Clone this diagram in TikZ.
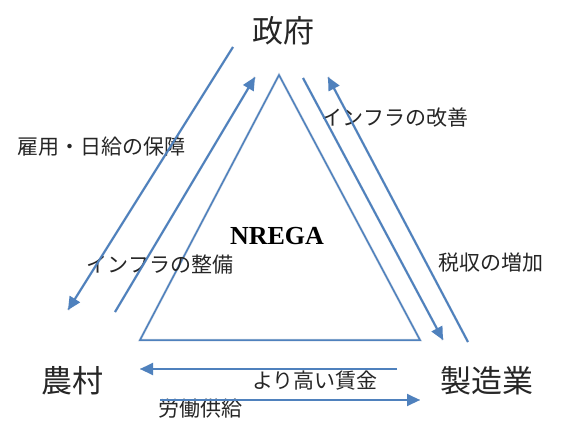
\documentclass[tikz,border=0pt]{standalone}
\usepackage{fontspec}
\setmainfont{Liberation Serif}
\newfontfamily\jp{Noto Sans CJK JP}
\usetikzlibrary{arrows.meta}
\definecolor{lineblue}{RGB}{79,129,189}
\definecolor{shadowc}{RGB}{205,215,228}
\tikzset{
  bigtext/.style={font=\jp\fontsize{31}{31}\selectfont, text=black!85, inner sep=0pt},
  lbltext/.style={font=\jp\fontsize{21}{21}\selectfont, text=black!85, inner sep=0pt},
  flow/.style={draw=lineblue, line width=2pt, -{Triangle[length=13pt,width=12pt]}},
  tri/.style={draw=lineblue, line width=1.5pt, line join=miter},
  shad/.style={draw=shadowc, line width=2.5pt}
}
\begin{document}
\begin{tikzpicture}[x=1pt,y=-1pt]
\useasboundingbox (0,0) rectangle (561,420);
\fill[white] (0,0) rectangle (561,420);

% endpoints
\coordinate (lo1) at (233,47);  \coordinate (lo2) at (68,310);
\coordinate (li1) at (115,312); \coordinate (li2) at (255,77);
\coordinate (ta) at (279,75);   \coordinate (tl) at (140,340); \coordinate (tr) at (420,340);
\coordinate (ri1) at (303,78);  \coordinate (ri2) at (443,340);
\coordinate (ro1) at (468,342); \coordinate (ro2) at (328,77);
\coordinate (h11) at (397,369); \coordinate (h12) at (140,369);
\coordinate (h21) at (160,400); \coordinate (h22) at (420,400);

% soft shadows
\begin{scope}[shift={(1.5,2.5)}]
\draw[shad] (lo1) -- (lo2);
\draw[shad] (li1) -- (li2);
\draw[shad] (ta) -- (tl) -- (tr) -- cycle;
\draw[shad] (ri1) -- (ri2);
\draw[shad] (ro1) -- (ro2);
\draw[shad] (h11) -- (h12);
\draw[shad] (h21) -- (h22);
\end{scope}

% triangle
\draw[tri] (ta) -- (tl) -- (tr) -- cycle;

% labels
\node[bigtext] (gov) at (283,31) {政府};
\node[bigtext] (rural) at (72,381) {農村};
\node[bigtext] (manu) at (487,381) {製造業};
\node[font=\bfseries\fontsize{26}{26}\selectfont, inner sep=0pt] (nrega) at (277,236) {NREGA};
\node[lbltext] (l1) at (101,147) {雇用・日給の保障};
\node[lbltext] (l2) at (160,265) {インフラの整備};
\node[lbltext] (l3) at (395,118) {インフラの改善};
\node[lbltext] (l4) at (491,263) {税収の増加};
\node[lbltext] (l5) at (315,381) {より高い賃金};
\node[lbltext] (l6) at (200,408.5) {労働供給};

% connectors
\draw[flow] (lo1) -- (lo2);
\draw[flow] (li1) -- (li2);
\draw[flow] (ri1) -- (ri2);
\draw[flow] (ro1) -- (ro2);
\draw[flow] (h11) -- (h12);
\draw[flow] (h21) -- (h22);
\end{tikzpicture}
\end{document}
